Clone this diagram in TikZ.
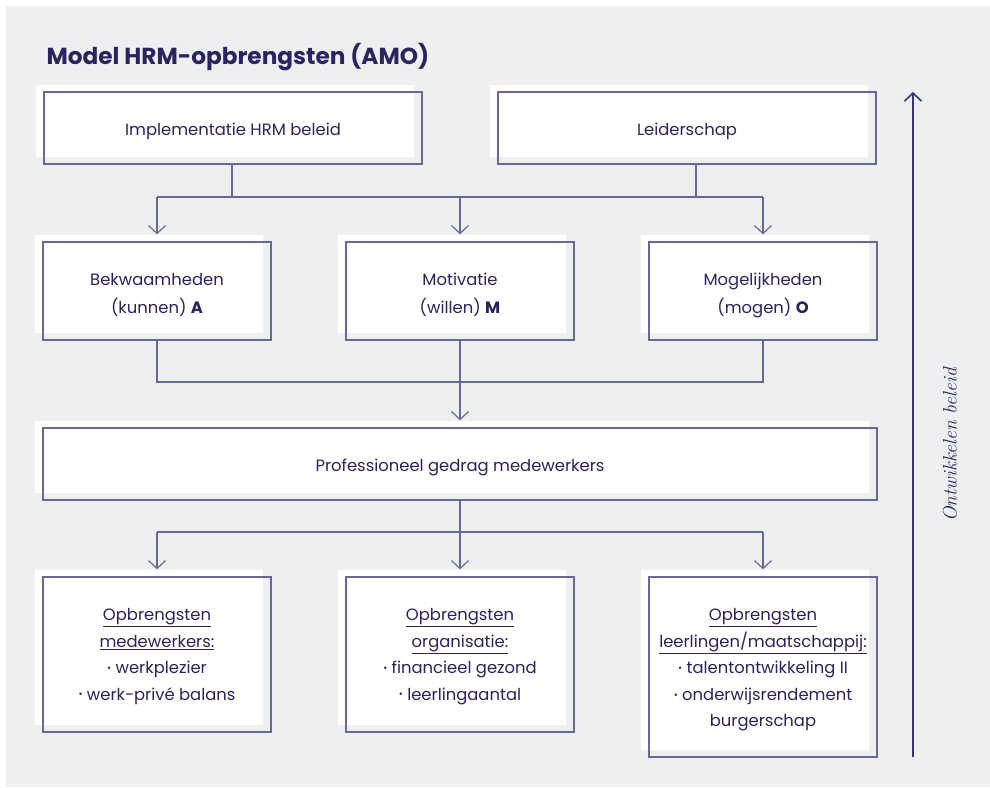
\documentclass[tikz,border=0pt]{standalone}
\usepackage{fontspec}
\usetikzlibrary{arrows.meta,shadows,calc}
\newfontfamily\bodyfont{Poppins}
\newfontfamily\popfont{Poppins}
\definecolor{bgc}{HTML}{EEEFF1}
\definecolor{txtc}{HTML}{29245F}
\definecolor{linec}{HTML}{6C6799}
\definecolor{navy}{HTML}{3A3578}
\tikzset{
  box/.style={draw=linec, line width=1.3pt, inner sep=0pt,
    general shadow={fill=white, shadow xshift=-8pt, shadow yshift=7pt}},
  lbltxt/.style={inner sep=0pt, align=center, text=txtc,
    font=\bodyfont\fontsize{16.4}{26.5}\selectfont},
  lbltwo/.style={lbltxt, font=\bodyfont\fontsize{16.4}{28}\selectfont},
  conn/.style={draw=linec, line width=1.2pt},
  arr/.style={conn, -{Straight Barb[length=8pt,width=17pt]}},
}
\newcommand{\bt}[1]{{\popfont\bfseries #1}}
\newcommand{\bul}{\raisebox{0.14em}{\scalebox{0.6}{•}}}
\begin{document}
\begin{tikzpicture}[x=1pt,y=-1pt]
\fill[white] (0,0) rectangle (990,787);
\fill[bgc] (6,6) rectangle (990,787);
\useasboundingbox (0,0) rectangle (990,787);

\node[anchor=base west, text=txtc, font=\popfont\bfseries\fontsize{23.2}{28}\selectfont] (title) at (43,64) {Model HRM-opbrengsten (AMO)};

\node[box, minimum width=378pt, minimum height=72pt] (impl) at (233,128) {};
\node[box, minimum width=378pt, minimum height=72pt] (leid) at (687,128) {};
\node[box, minimum width=228pt, minimum height=98pt] (bekw) at (157,291) {};
\node[box, minimum width=228pt, minimum height=98pt] (motiv) at (460,291) {};
\node[box, minimum width=228pt, minimum height=98pt] (moge) at (763,291) {};
\node[box, minimum width=834pt, minimum height=72pt] (prof) at (460,464) {};
\node[box, minimum width=228pt, minimum height=155pt] (op1) at (157,654.5) {};
\node[box, minimum width=228pt, minimum height=155pt] (op2) at (460,654.5) {};
\node[box, minimum width=228pt, minimum height=180pt] (op3) at (763,667) {};

\node[lbltxt] (timpl) at ([yshift=-3pt]impl.center) {Implementatie HRM beleid};
\node[lbltxt] (tleid) at ([yshift=-3pt]leid.center) {Leiderschap};
\node[lbltwo] (tbekw) at ([yshift=-4pt]bekw.center) {Bekwaamheden\\(kunnen) \bt{A}};
\node[lbltwo] (tmotiv) at ([yshift=-4pt]motiv.center) {Motivatie\\(willen) \bt{M}};
\node[lbltwo] (tmoge) at ([yshift=-4pt]moge.center) {Mogelijkheden\\(mogen) \bt{O}};
\node[lbltxt] (tprof) at ([yshift=-3pt]prof.center) {Professioneel gedrag medewerkers};
\node[lbltxt] (top1) at ([yshift=-2pt]op1.center) {\underline{Opbrengsten}\\\underline{medewerkers:}\\\bul\ werkplezier\\\bul\ werk-privé balans};
\node[lbltxt] (top2) at ([yshift=-2pt]op2.center) {\underline{Opbrengsten}\\\underline{organisatie:}\\\bul\ financieel gezond\\\bul\ leerlingaantal};
\node[lbltxt] (top3) at ([yshift=-3pt]op3.center) {\underline{Opbrengsten}\\\underline{leerlingen/maatschappij:}\\\bul\ talentontwikkeling II\\\bul\ onderwijsrendement\\burgerschap};

% first junction
\coordinate (barA) at (0,197);
\draw[conn] ([xshift=-1pt]impl.south) -- ([xshift=-1pt]impl.south |- barA);
\draw[conn] ([xshift=9pt]leid.south) -- ([xshift=9pt]leid.south |- barA);
\draw[conn] (bekw.north |- barA) -- (moge.north |- barA);
\draw[arr] (bekw.north |- barA) -- ([yshift=7pt]bekw.north);
\draw[arr] (motiv.north |- barA) -- ([yshift=7pt]motiv.north);
\draw[arr] (moge.north |- barA) -- ([yshift=7pt]moge.north);

% second junction
\coordinate (barB) at (0,382);
\draw[conn] (bekw.south) -- (bekw.south |- barB) -- (moge.south |- barB) -- (moge.south);
\draw[conn] (motiv.south) -- (motiv.south |- barB);
\draw[arr] (motiv.south |- barB) -- ([yshift=7pt]prof.north -| motiv.south);

% third junction
\coordinate (barC) at (0,532);
\draw[conn] (prof.south) -- (prof.south |- barC);
\draw[conn] (op1.north |- barC) -- (op3.north |- barC);
\draw[arr] (op1.north |- barC) -- ([yshift=7pt]op1.north);
\draw[arr] (op2.north |- barC) -- ([yshift=7pt]op2.north);
\draw[arr] (op3.north |- barC) -- ([yshift=7pt]op3.north);

% development arrow
\coordinate (vb) at (913,757);
\coordinate (vt) at (913,92);
\draw[navy, line width=1.6pt, -{Straight Barb[length=8pt,width=17pt]}] (vb) -- (vt);
\node[rotate=90, text=txtc, font=\rmfamily\itshape\fontsize{19.5}{22}\selectfont] (lbl) at (950,445) {Ontwikkelen beleid};
\end{tikzpicture}
\end{document}
